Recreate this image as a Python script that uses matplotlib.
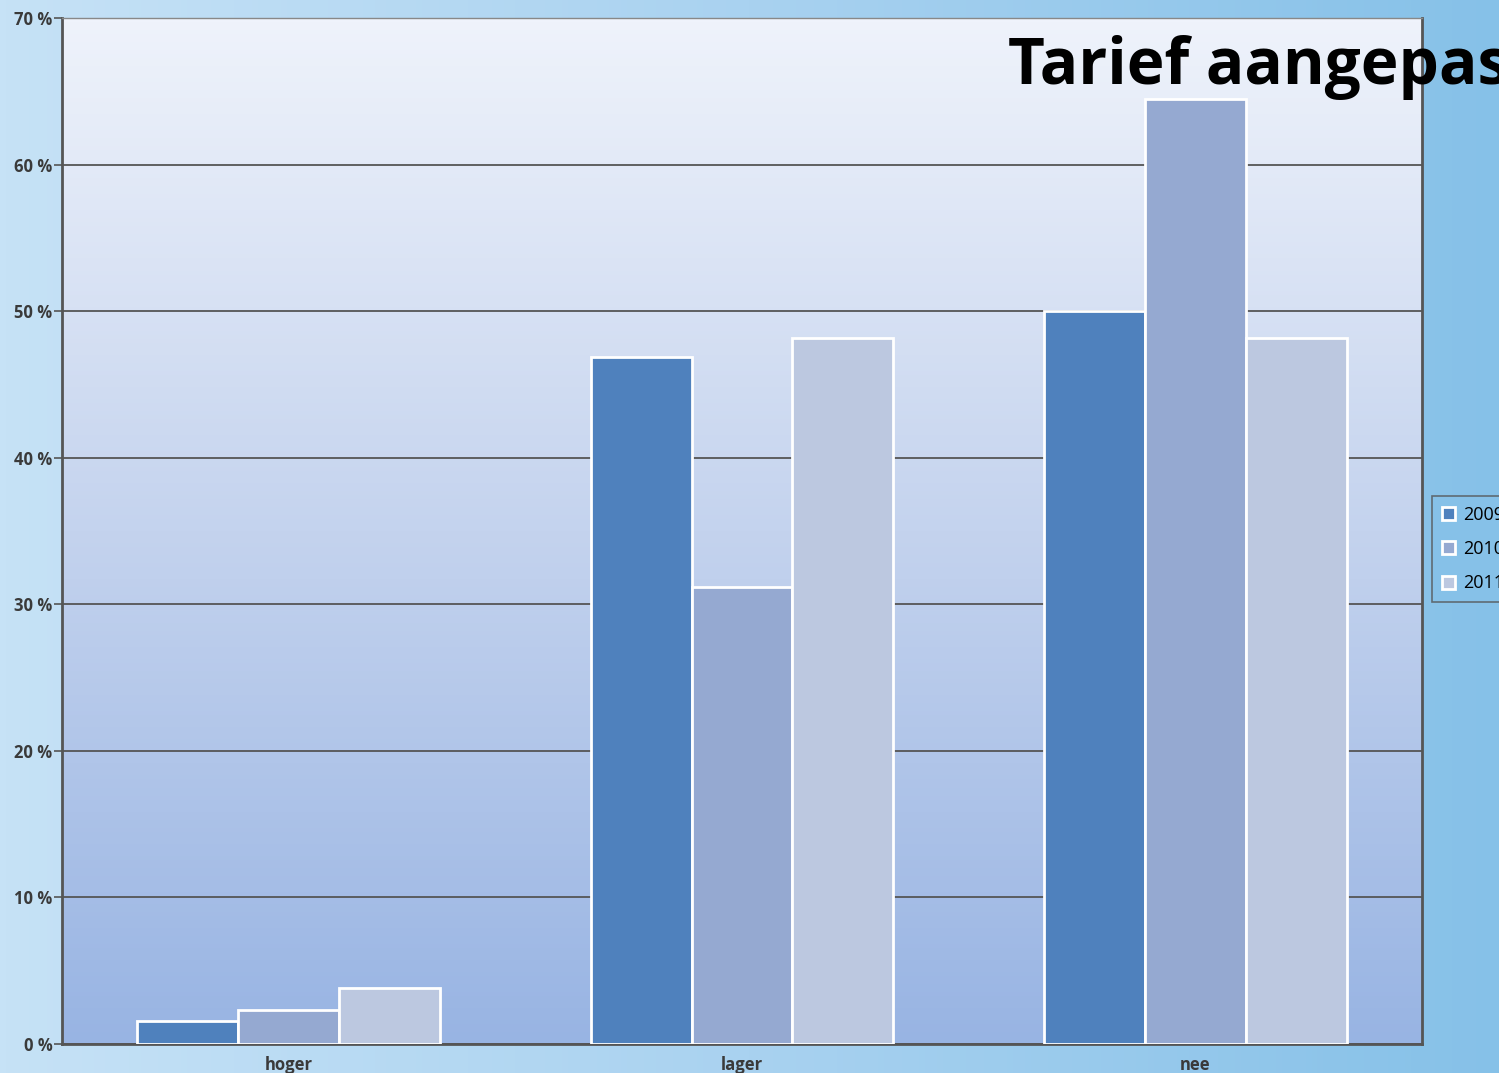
import matplotlib
matplotlib.use("Agg")
import matplotlib.pyplot as plt
from matplotlib.colors import LinearSegmentedColormap
import numpy as np

# %% data
categories = ["hoger", "lager", "nee"]
years = ["2009", "2010", "2011"]
v2009 = [1.6, 46.9, 50.0]
v2010 = [2.3, 31.2, 64.5]
v2011 = [3.8, 48.2, 48.2]
yticks = [0, 10, 20, 30, 40, 50, 60, 70]
colors = ["#4f81bd", "#95a9d1", "#bcc8e0"]

# %% plot
plt.rcParams["font.family"] = ["Open Sans", "DejaVu Sans"]
fig = plt.figure(figsize=(14.99, 10.73), dpi=100)

# figure background gradient (light blue, darker to the right)
bg = fig.add_axes([0, 0, 1, 1], zorder=-10)
grad = np.linspace(0, 1, 256).reshape(1, -1)
bg_cmap = LinearSegmentedColormap.from_list("bg", ["#c6e2f6", "#a9d2f0", "#86c1e8"])
bg.imshow(grad, aspect="auto", cmap=bg_cmap, extent=[0, 1, 0, 1])
bg.set_axis_off()

ax = fig.add_axes([62 / 1499, 29 / 1073, 1360 / 1499, 1026 / 1073])
ax_cmap = LinearSegmentedColormap.from_list("axbg", ["#98b4e3", "#c4d3ee", "#eff3fb"])
vgrad = np.linspace(0, 1, 256).reshape(-1, 1)
ax.imshow(vgrad, aspect="auto", cmap=ax_cmap, origin="lower",
          extent=[0, 3, 0, 70], zorder=0)

x = np.arange(len(categories)) + 0.5
w = 0.2225
for i, (vals, c, yr) in enumerate(zip([v2009, v2010, v2011], colors, years)):
    ax.bar(x + (i - 1) * w, vals, width=w, color=c, edgecolor="white",
           linewidth=2, label=yr, zorder=3)

ax.set_xlim(0, 3)
ax.set_ylim(0, 70)
ax.set_yticks(yticks)
ax.set_yticklabels([f"{t} %" for t in yticks], fontsize=12, fontweight="bold",
                   color="#3a3a3a")
ax.set_xticks(x)
ax.set_xticklabels(categories, fontsize=12, fontweight="bold", color="#3a3a3a")
ax.tick_params(axis="x", length=0, pad=9)
ax.tick_params(axis="y", length=6, width=1.2, color="#555555", pad=1)
ax.yaxis.grid(True, color="#555555", linewidth=1.3, zorder=1)
ax.set_axisbelow(True)
for s in ["left", "bottom", "right"]:
    ax.spines[s].set_color("#555555")
    ax.spines[s].set_linewidth(2)
ax.spines["top"].set_color("#888888")
ax.spines["top"].set_linewidth(1)

leg = fig.legend(loc="upper left", bbox_to_anchor=(1432 / 1499, 1 - 496 / 1073),
                 fontsize=13, frameon=True, fancybox=False, handlelength=0.75,
                 handleheight=0.75, labelspacing=0.9, borderpad=0.55,
                 handletextpad=0.4, borderaxespad=0)
leg.get_frame().set_edgecolor("#555555")
leg.get_frame().set_facecolor("#86c1e8")
leg.get_frame().set_linewidth(1.2)

fig.text(1008 / 1499, 1 - 84 / 1073, "Tarief aangepast", fontsize=46,
         fontweight="bold", color="black", ha="left", va="baseline", zorder=10)

fig.savefig("out.png", dpi=100)
